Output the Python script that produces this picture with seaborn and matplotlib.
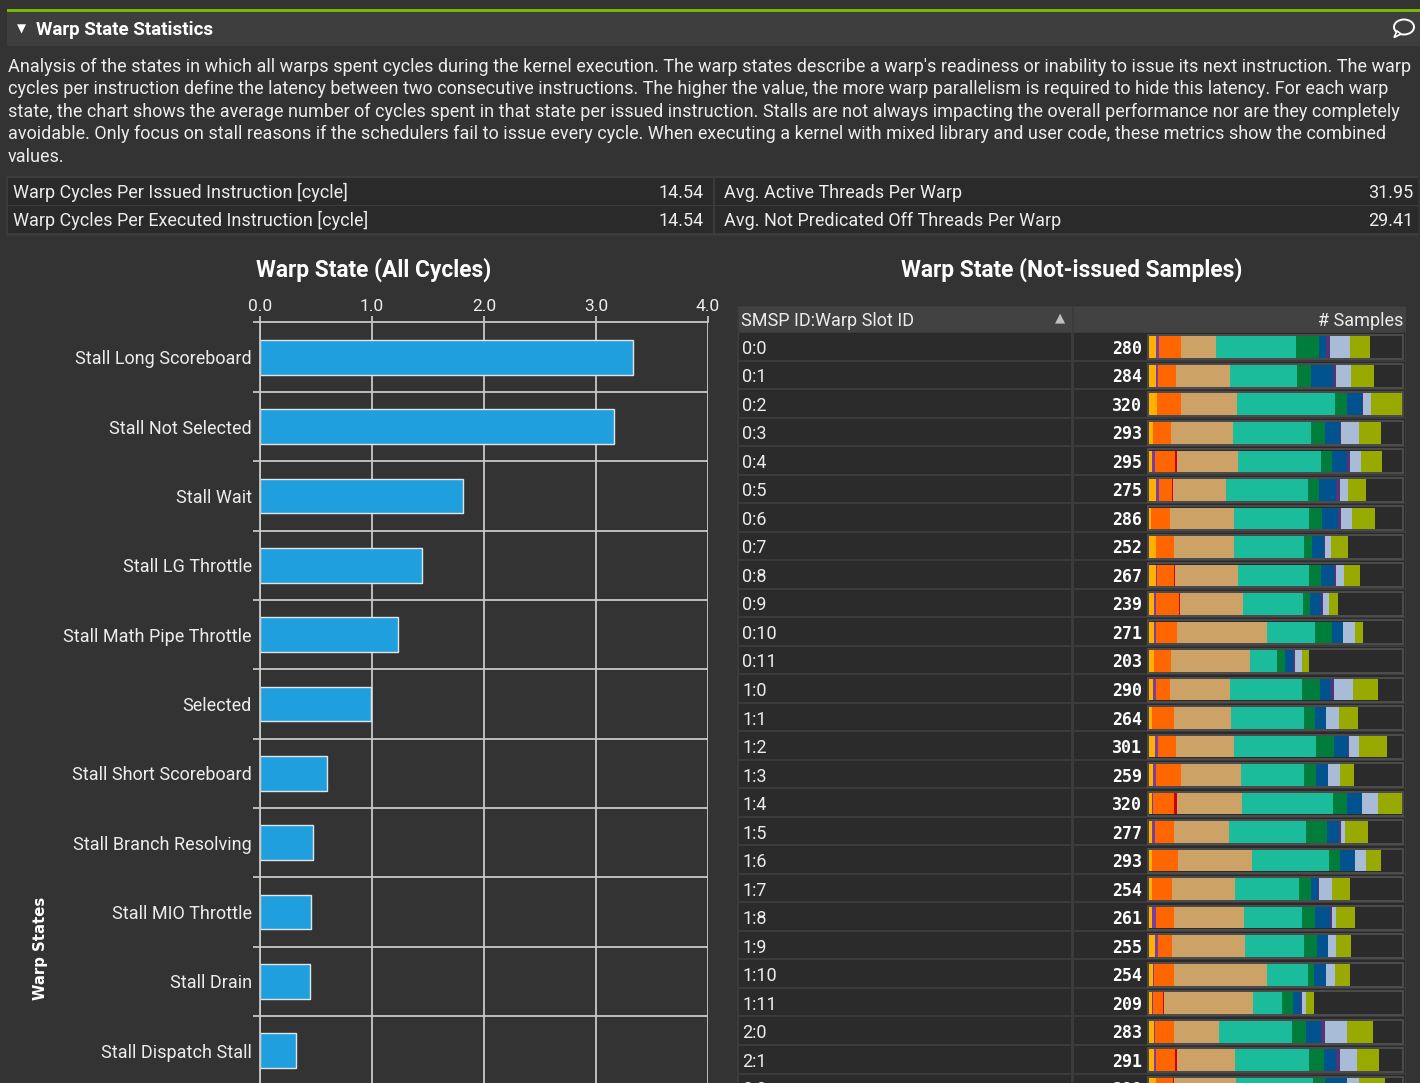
import numpy as np
import pandas as pd
import matplotlib
matplotlib.use("Agg")
import matplotlib.pyplot as plt
from matplotlib.patches import Rectangle, Ellipse, Polygon
import seaborn as sns

# ---------------- data ----------------
states = ["Stall Long Scoreboard", "Stall Not Selected", "Stall Wait", "Stall LG Throttle",
          "Stall Math Pipe Throttle", "Selected", "Stall Short Scoreboard",
          "Stall Branch Resolving", "Stall MIO Throttle", "Stall Drain", "Stall Dispatch Stall"]
cycles = [3.33, 3.16, 1.81, 1.45, 1.23, 0.99, 0.60, 0.47, 0.455, 0.446, 0.32]
cycle_ticks = [0.0, 1.0, 2.0, 3.0, 4.0]

metric_left_names = ["Warp Cycles Per Issued Instruction [cycle]", "Warp Cycles Per Executed Instruction [cycle]"]
metric_left_values = ["14.54", "14.54"]
metric_right_names = ["Avg. Active Threads Per Warp", "Avg. Not Predicated Off Threads Per Warp"]
metric_right_values = ["31.95", "29.41"]

slot_ids = ["0:0", "0:1", "0:2", "0:3", "0:4", "0:5", "0:6", "0:7", "0:8", "0:9", "0:10", "0:11",
            "1:0", "1:1", "1:2", "1:3", "1:4", "1:5", "1:6", "1:7", "1:8", "1:9", "1:10", "1:11",
            "2:0", "2:1", "2:2"]
samples = [280, 284, 320, 293, 295, 275, 286, 252, 267, 239, 271, 203,
           290, 264, 301, 259, 320, 277, 293, 254, 261, 255, 254, 209,
           283, 291, 299]

# per-state sample segments (one value per warp slot), in stacking order
seg_yellow = [9, 9, 10, 5, 4, 9, 3, 9, 9, 6, 6, 6, 5, 4, 8, 5, 4, 4, 4, 4, 4, 8, 5, 4, 6, 6, 9]
seg_purple = [4, 3, 0, 0, 4, 4, 0, 0, 1, 3, 3, 0, 4, 0, 3, 4, 1, 3, 0, 0, 5, 3, 1, 1, 1, 3, 0]
seg_orange = [28, 22, 30, 23, 25, 16, 24, 23, 22, 29, 27, 22, 18, 27, 23, 32, 27, 24, 33, 25, 22, 18, 25, 13, 24, 24, 21]
seg_red = [0, 0, 1, 0, 3, 1, 0, 0, 1, 1, 0, 0, 0, 1, 0, 0, 4, 0, 0, 0, 0, 0, 0, 1, 1, 3, 1]
seg_tan = [44, 68, 70, 78, 76, 67, 80, 75, 80, 80, 113, 100, 76, 72, 73, 75, 82, 70, 93, 80, 89, 93, 118, 112, 57, 73, 79]
seg_teal = [101, 85, 124, 99, 106, 104, 96, 89, 89, 76, 61, 34, 91, 92, 104, 80, 115, 98, 98, 81, 74, 74, 52, 37, 92, 94, 98]
seg_green = [29, 18, 16, 18, 14, 14, 16, 10, 16, 9, 22, 10, 22, 14, 23, 15, 18, 26, 13, 15, 16, 16, 8, 14, 18, 18, 14]
seg_blue = [9, 28, 19, 19, 18, 22, 20, 15, 16, 13, 14, 10, 14, 14, 18, 15, 19, 15, 20, 9, 19, 14, 15, 10, 19, 16, 28]
seg_violet = [5, 4, 1, 1, 4, 4, 4, 1, 3, 3, 0, 3, 4, 0, 1, 0, 0, 3, 0, 1, 3, 1, 0, 1, 4, 4, 0]
seg_lightblue = [25, 19, 10, 23, 14, 11, 14, 8, 10, 8, 15, 8, 24, 16, 13, 15, 20, 5, 14, 16, 5, 10, 11, 6, 29, 22, 16]
seg_olive = [26, 28, 39, 27, 27, 23, 29, 22, 20, 11, 10, 10, 32, 24, 35, 18, 30, 29, 18, 23, 24, 18, 19, 10, 32, 28, 33]

description_lines = [
    "Analysis of the states in which all warps spent cycles during the kernel execution. The warp states describe a warp's readiness or inability to issue its next instruction. The warp",
    "cycles per instruction define the latency between two consecutive instructions. The higher the value, the more warp parallelism is required to hide this latency. For each warp",
    "state, the chart shows the average number of cycles spent in that state per issued instruction. Stalls are not always impacting the overall performance nor are they completely",
    "avoidable. Only focus on stall reasons if the schedulers fail to issue every cycle. When executing a kernel with mixed library and user code, these metrics show the combined",
    "values.",
]

# ---------------- style ----------------
W, H, DPI = 1420, 1083, 100
BG = "#333333"
TXT = "#ececec"
GRID = "#c8c8c8"
sns.set_theme(style="dark", rc={"axes.facecolor": BG, "figure.facecolor": BG,
                                "savefig.facecolor": BG, "text.color": TXT})
plt.rcParams["font.family"] = ["Roboto", "DejaVu Sans"]

fig = plt.figure(figsize=(W / DPI, H / DPI), dpi=DPI)

bg = fig.add_axes([0, 0, 1, 1])
bg.set_xlim(0, W)
bg.set_ylim(H, 0)
bg.axis("off")
bg.set_zorder(0)


def rect(x, y, w, h, fc, ec="none", lw=0):
    bg.add_patch(Rectangle((x, y), w, h, facecolor=fc, edgecolor=ec, linewidth=lw))


# header
rect(7, 9, W - 7, 3, "#76b900")
rect(7, 12, W - 7, 34, "#3e3e3e")
bg.text(21, 29.5, "\u25BC", fontsize=8.5, color="white", ha="center", va="center", family="DejaVu Sans")
bg.text(36, 30, "Warp State Statistics", fontsize=13.5, fontweight="bold", color="white", va="center")
bg.add_patch(Ellipse((1404, 27), 20, 15, facecolor="none", edgecolor="white", linewidth=1.4))
bg.add_patch(Polygon([[1397, 31], [1394, 37.5], [1401, 34]], closed=True, facecolor="#3e3e3e",
                     edgecolor="white", linewidth=1.2))

for i, line in enumerate(description_lines):
    bg.text(8, 66.5 + 22.6 * i, line, fontsize=12.98, color=TXT, va="center")

# metrics table
rect(6, 176, W - 8, 60, "#3b3b3b")
for r in range(2):
    top = 178 + 28 * r
    rect(8, top, 705, 26.5, "#2a2a2a")
    rect(715, top, W - 717, 26.5, "#2a2a2a")
    yc = top + 14.5
    bg.text(13, yc, metric_left_names[r], fontsize=13, color=TXT, va="center")
    bg.text(704, yc, metric_left_values[r], fontsize=13, color=TXT, va="center", ha="right")
    bg.text(724, yc, metric_right_names[r], fontsize=13, color=TXT, va="center")
    bg.text(1413, yc, metric_right_values[r], fontsize=13, color=TXT, va="center", ha="right")

# titles
bg.text(374, 269.5, "Warp State (All Cycles)", fontsize=16.4, fontweight="bold", color="white",
        ha="center", va="center")
bg.text(1072, 269.5, "Warp State (Not-issued Samples)", fontsize=16.4, fontweight="bold", color="white",
        ha="center", va="center")
bg.text(40, 948, "Warp States", fontsize=10.7, fontweight="bold", color="white", rotation=90,
        ha="center", va="center", family="DejaVu Sans")

# ---------------- left chart (seaborn) ----------------
df_left = pd.DataFrame({"state": states, "cycles": cycles})
top_px, band = 322.5, 69.35
ax = fig.add_axes([260 / W, 1 - (top_px + band * len(states)) / H, 448 / W, band * len(states) / H])
ax.set_zorder(2)
sns.barplot(data=df_left, x="cycles", y="state", orient="h", color="#1F9FDD", saturation=1,
            width=0.5, edgecolor="#e4e4e4", linewidth=1.0, ax=ax)
ax.set_facecolor(BG)
ax.set_xlim(0, 4)
ax.set_ylim(len(states) - 0.5, -0.5)
ax.xaxis.tick_top()
ax.set_xticks(cycle_ticks)
ax.set_xticklabels([f"{v:.1f}" for v in cycle_ticks])
ax.tick_params(axis="x", which="major", length=4.5, width=1.3, color=GRID, pad=1.5,
               labelsize=12.5, labelcolor=TXT)
ax.set_yticks(range(len(states)))
ax.set_yticklabels(states)
ax.set_yticks(np.arange(-0.5, len(states), 1.0), minor=True)
ax.tick_params(axis="y", which="major", length=0, pad=6, labelsize=13, labelcolor=TXT)
ax.tick_params(axis="y", which="minor", length=5, width=1.3, color=GRID, left=True)
ax.grid(False)
ax.grid(axis="x", which="major", color=GRID, linewidth=1.3)
ax.grid(axis="y", which="minor", color=GRID, linewidth=1.3)
ax.set_axisbelow(True)
for s in ["right", "bottom"]:
    ax.spines[s].set_visible(False)
for s in ["top", "left"]:
    ax.spines[s].set_color(GRID)
    ax.spines[s].set_linewidth(1.3)
ax.set_xlabel("")
ax.set_ylabel("")

# ---------------- right table ----------------
row0, pitch = 333.0, 28.52
n = len(slot_ids)
rect(737, 306, 669, H, "#3b3b3b")
rect(739, 307, 333, 25, "#424242")
rect(1074, 307, 332, 25, "#424242")
bg.text(741, 320.5, "SMSP ID:Warp Slot ID", fontsize=13, color=TXT, va="center")
bg.text(1060, 318, "\u25B2", fontsize=9.5, color="#c0c0c0", ha="center", va="center", family="DejaVu Sans")
bg.text(1403, 320.5, "# Samples", fontsize=13, color=TXT, va="center", ha="right")
for i in range(n):
    top = row0 + pitch * i
    yc = top + pitch / 2
    rect(739, top, 332, pitch - 2, "#2b2b2b")
    rect(1074, top, 331, pitch - 2, "#2b2b2b")
    rect(1148, yc - 12, 255, 24, "#2b2b2b", ec="#4f4f4f", lw=1.3)
    bg.text(742, yc + 1.5, slot_ids[i], fontsize=13, color=TXT, va="center")
    bg.text(1142, yc + 1.5, str(samples[i]), fontsize=12, color="white", va="center", ha="right",
            family="DejaVu Sans Mono", fontweight="bold")

segments = [
    ("yellow", seg_yellow, "#FFB000"),
    ("purple", seg_purple, "#7A3F9C"),
    ("orange", seg_orange, "#FF6600"),
    ("red", seg_red, "#CC0010"),
    ("tan", seg_tan, "#CDA266"),
    ("teal", seg_teal, "#1ABC9C"),
    ("green", seg_green, "#007D3A"),
    ("blue", seg_blue, "#00538E"),
    ("violet", seg_violet, "#553377"),
    ("lightblue", seg_lightblue, "#A8BCD8"),
    ("olive", seg_olive, "#98AA00"),
]
bax = fig.add_axes([1149 / W, 1 - (row0 + pitch * n) / H, 253 / W, pitch * n / H])
bax.set_zorder(2)
bax.set_xlim(0, max(samples))
bax.set_ylim(n - 0.5, -0.5)
bax.axis("off")
ypos = np.arange(n)
left = np.zeros(n)
for name, vals, col in segments:
    vals = np.asarray(vals, dtype=float)
    bax.barh(ypos, vals, left=left, height=0.76, color=col, linewidth=0)
    left += vals

fig.savefig("out.png", dpi=DPI, facecolor=BG)
